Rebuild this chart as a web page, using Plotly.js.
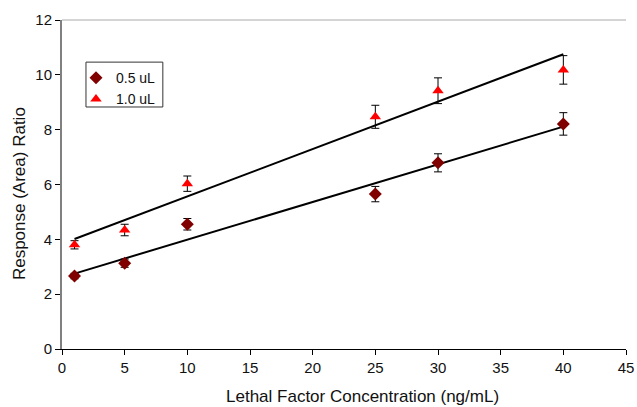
<!DOCTYPE html>
<html>
<head>
<meta charset="utf-8">
<script src="https://cdn.plot.ly/plotly-3.0.1.min.js"></script>
<style>html,body{margin:0;padding:0;background:#fff;}#chart{width:637px;height:407px;}</style>
</head>
<body>
<div id="chart"></div>
<script>
const concentration = [1, 5, 10, 25, 30, 40];
const ratio05 = [2.66, 3.13, 4.55, 5.65, 6.79, 8.21];
const err05 = [0.10, 0.15, 0.21, 0.28, 0.33, 0.41];
const ratio10 = [3.80, 4.34, 6.03, 8.47, 9.42, 10.18];
const err10 = [0.15, 0.21, 0.28, 0.42, 0.47, 0.52];
const fitX = [1, 40];
const fit05 = [2.75, 8.11];
const fit10 = [4.01, 10.75];
const xTitle = 'Lethal Factor Concentration (ng/mL)';
const yTitle = 'Response (Area) Ratio';

const font = "Liberation Sans, Arial, sans-serif";

const traces = [
  {x: fitX, y: fit05, mode: 'lines', line: {color: '#000', width: 2}, showlegend: false, hoverinfo: 'skip'},
  {x: fitX, y: fit10, mode: 'lines', line: {color: '#000', width: 2}, showlegend: false, hoverinfo: 'skip'},
  {x: concentration, y: ratio05, name: '0.5 uL', mode: 'markers',
   marker: {symbol: 'diamond', size: 10, color: '#800000'},
   error_y: {type: 'data', array: err05, visible: true, color: '#000', thickness: 1, width: 4}},
  {x: concentration, y: ratio10, name: '1.0 uL', mode: 'markers',
   marker: {symbol: 'triangle-up', size: 10, color: '#FF0000'},
   error_y: {type: 'data', array: err10, visible: true, color: '#000', thickness: 1, width: 4}}
];

const layout = {
  width: 637, height: 407,
  margin: {l: 62, r: 11, t: 20, b: 58},
  paper_bgcolor: '#fff', plot_bgcolor: '#fff',
  font: {family: font, size: 15, color: '#111'},
  xaxis: {
    range: [0, 45], tickvals: [0,5,10,15,20,25,30,35,40,45],
    showgrid: false, zeroline: false, showline: true, linecolor: '#000', linewidth: 1,
    ticks: 'outside', ticklen: 5, tickcolor: '#000',
    tickfont: {family: font, size: 15, color: '#111'}
  },
  yaxis: {
    range: [0, 12], tickvals: [0,2,4,6,8,10,12],
    showgrid: false, zeroline: false, showline: true, linecolor: '#808080', linewidth: 2,
    ticks: 'outside', ticklen: 5, tickcolor: '#000',
    tickfont: {family: font, size: 15, color: '#111'}
  },
  legend: {
    x: 0.0248, y: 0.872, xanchor: 'left', yanchor: 'top',
    borderwidth: 0, bgcolor: 'rgba(0,0,0,0)',
    font: {family: font, size: 14, color: '#111'},
    tracegroupgap: 4
  },
  annotations: [
    {text: xTitle, xref: 'paper', yref: 'paper', x: 0.532, y: -0.1429, xanchor: 'center', yanchor: 'middle',
     showarrow: false, font: {family: font, size: 17, color: '#111'}},
    {text: yTitle, xref: 'paper', yref: 'paper', x: -0.0762, y: 0.471, xanchor: 'center', yanchor: 'middle',
     textangle: -90, showarrow: false, font: {family: font, size: 17, color: '#111'}}
  ],
  shapes: [
    {type: 'line', xref: 'paper', yref: 'paper', x0: 0, x1: 1, y0: 1, y1: 1, line: {color: '#aaa', width: 1}},
    {type: 'rect', xref: 'paper', yref: 'paper', x0: 0.0425, x1: 0.1788, y0: 0.7356, y1: 0.872,
     line: {color: '#333', width: 1}, fillcolor: 'rgba(0,0,0,0)', layer: 'below'}
  ]
};

Plotly.newPlot('chart', traces, layout, {displayModeBar: false, staticPlot: true});
</script>
</body>
</html>
